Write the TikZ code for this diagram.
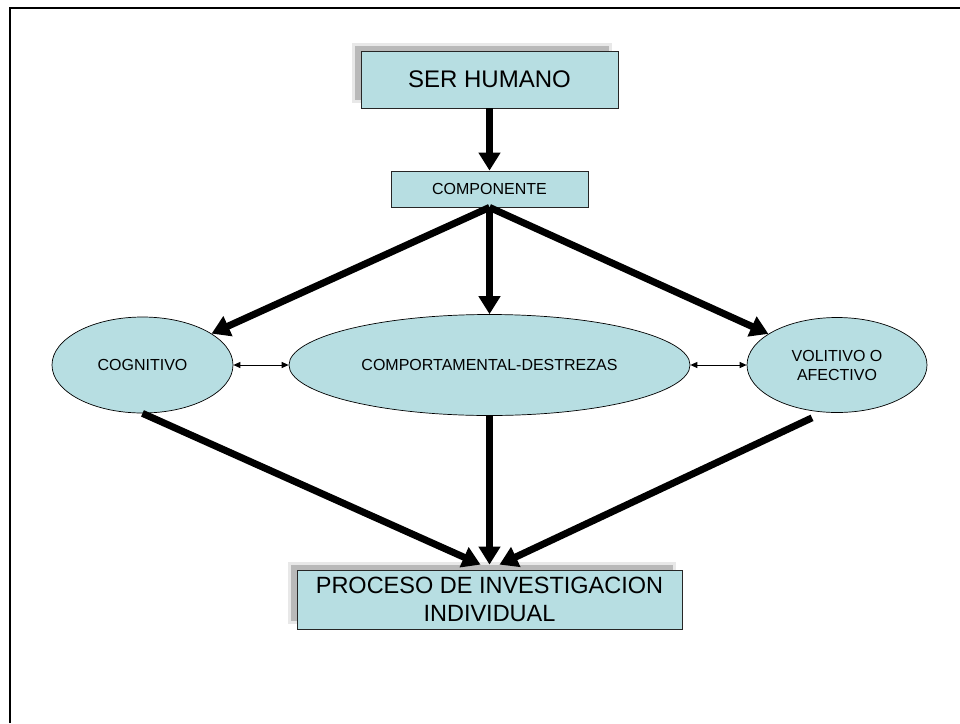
\documentclass[tikz,border=0pt]{standalone}
\usepackage{fontspec}
\setmainfont{Liberation Sans}
\usetikzlibrary{arrows.meta,shadows,calc,shapes.geometric}
\definecolor{fillc}{RGB}{183,222,226}
\begin{document}
\begin{tikzpicture}[x=1pt,y=-1pt,
  box/.style={draw=black!85, line width=0.8pt, fill=fillc, inner sep=0pt, align=center},
  shadowed/.style={general shadow={fill=gray!55, draw=gray!18, line width=3pt, shadow xshift=-8pt, shadow yshift=7pt}},
  ell/.style={ellipse, draw=black, line width=0.7pt, fill=fillc, inner sep=0pt, align=center, font=\fontsize{16}{19}\selectfont},
  big/.style={line width=7pt, -{Triangle[length=18pt,width=21pt]}},
  thinarrow/.style={line width=1pt, {Triangle[length=7pt,width=6pt]}-{Triangle[length=7pt,width=6pt]}}
]
\useasboundingbox (0,0) rectangle (960,723);
\draw[line width=2.3pt] (10,723) -- (10,8) -- (961,8);

\node[box, shadowed, minimum width=257pt, minimum height=57pt, font=\fontsize{24}{28}\selectfont] (ser) at (489.5,79.5) {SER HUMANO};
\node[box, minimum width=197pt, minimum height=36pt, font=\fontsize{16}{19}\selectfont] (compo) at (489.5,189) {COMPONENTE};
\node[ell, minimum width=181pt, minimum height=96pt] (cog) at (142.5,365) {COGNITIVO};
\node[ell, minimum width=401pt, minimum height=101pt] (cmp) at (489.5,365) {COMPORTAMENTAL-DESTREZAS};
\node[ell, minimum width=180pt, minimum height=95pt] (vol) at (837,365) {VOLITIVO O\\AFECTIVO};
\node[box, shadowed, minimum width=385pt, minimum height=59pt, font=\fontsize{23.5}{28}\selectfont] (proc) at (489.5,599.5) {PROCESO DE INVESTIGACION\\INDIVIDUAL};

\draw[big] (ser.south) -- (compo.north);
\draw[big] (compo.south) -- (cog);
\draw[big] (compo.south) -- (cmp.north);
\draw[big] (compo.south) -- (vol);
\draw[thinarrow] (cog.east) -- (cmp.west);
\draw[thinarrow] (cmp.east) -- (vol.west);
\draw[big] (cog.south) -- ($(proc.north)+(-9,-5)$);
\draw[big] (cmp.south) -- ($(proc.north)+(0,-5)$);
\draw[big] ($(vol.south)+(-25,5)$) -- ($(proc.north)+(10,-5)$);
\end{tikzpicture}
\end{document}
